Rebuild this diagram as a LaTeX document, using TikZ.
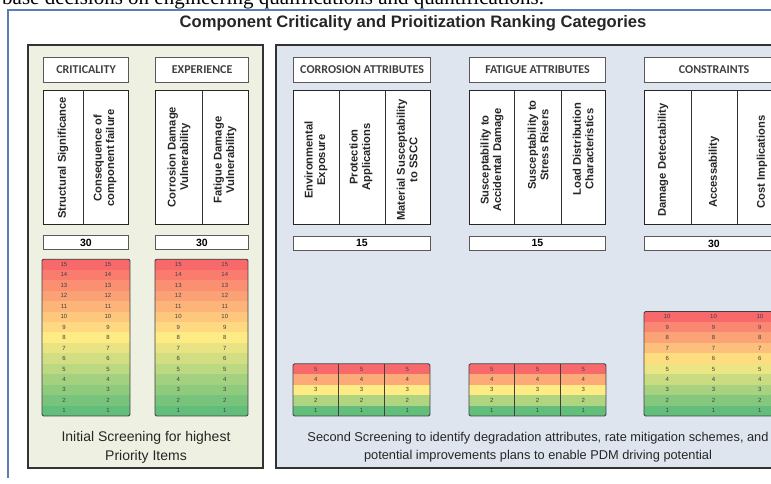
\documentclass[tikz,border=0pt]{standalone}
\usepackage{fontspec}
\setmainfont{Liberation Sans}
\newfontfamily\hdrfont{Carlito}
\newfontfamily\runfont{Liberation Serif}

\definecolor{scalered}{HTML}{F8696B}
\definecolor{scaleyel}{HTML}{FFEB84}
\definecolor{scalegrn}{HTML}{63BE7B}
\definecolor{leftfill}{HTML}{EEF1E1}
\definecolor{rightfill}{HTML}{DEE5EF}
\definecolor{framebl}{HTML}{5A7DB4}

\tikzset{
  panel/.style={draw=black!80, line width=1.6pt},
  hdrbox/.style={draw=black!65, line width=1.2pt, fill=white, anchor=north west,
    inner sep=0pt, font=\hdrfont\bfseries\fontsize{12}{12}\selectfont, text=black!75},
  colbox/.style={draw=black!85, line width=1pt, fill=white},
  collabel/.style={rotate=90, align=center, inner sep=0pt,
    font=\bfseries\fontsize{11.2}{12.5}\selectfont, text=black!85},
  valbox/.style={draw=black!65, line width=0.8pt, fill=white, anchor=north west,
    inner sep=0pt, font=\bfseries\fontsize{10.5}{10}\selectfont},
  scalenum/.style={inner sep=0pt, font=\fontsize{6}{6}\selectfont, text=black!75},
}

% colour-ranked score column: left, right, bottom, rows, columns, dividers (1/0), name
\newcommand{\rankscale}[7]{%
  \pgfmathsetmacro{\rowh}{10.45}%
  \pgfmathsetmacro{\colw}{(#2-#1)/#5}%
  \foreach \r in {1,...,#4}{%
    \pgfmathtruncatemacro{\mixp}{200*(\r-1)/(#4-1)}%
    \ifnum\mixp>100
      \pgfmathtruncatemacro{\mixq}{\mixp-100}%
      \colorlet{rowcol}{scalered!\mixq!scaleyel}%
    \else
      \colorlet{rowcol}{scaleyel!\mixp!scalegrn}%
    \fi
    \fill[rowcol] (#1,{#3-(\r-1)*\rowh}) rectangle (#2,{#3-\r*\rowh});
    \foreach \c in {1,...,#5}
      \node[scalenum] (#7-\r-\c) at ({#1+(\c-0.5)*\colw},{#3-(\r-0.5)*\rowh}) {\r};
  }%
  \ifnum#6=1
    \pgfmathtruncatemacro{\ndiv}{#5-1}%
    \foreach \c in {1,...,\ndiv}
      \draw[black!75, line width=0.6pt] ({#1+\c*\colw},#3) -- ({#1+\c*\colw},{#3-#4*\rowh});
  \fi
  \draw[black!75, line width=0.8pt, rounded corners=1.5pt] (#1,#3) rectangle (#2,{#3-#4*\rowh});
}

\begin{document}
\begin{tikzpicture}[x=1pt,y=-1pt]
  \useasboundingbox (0,0) rectangle (771,484);
  \clip (0,0) rectangle (771,484);
  \fill[white] (0,0) rectangle (771,484);

  % last line of the running text, cut by the top edge
  \node[anchor=base west, inner sep=0pt, font=\runfont\fontsize{21}{21}\selectfont] (runin) at (2,5)
    {base decisions on engineering qualifications and quantifications.};

  % outer frame
  \draw[framebl, line width=1.5pt] (8,478) -- (8,10) -- (800,10);
  \node[font=\bfseries\fontsize{16.6}{16}\selectfont, text=black!85] (title) at (413,23)
    {Component Criticality and Prioitization Ranking Categories};

  % screening panels
  \draw[panel, fill=leftfill] (28,45) rectangle (263,468);
  \draw[panel, fill=rightfill] (276,45) rectangle (800,468);

  % category headers
  \node[hdrbox, minimum width=85pt, minimum height=25pt] (crit) at (43,57) {CRITICALITY};
  \node[hdrbox, minimum width=93pt, minimum height=25pt] (exper) at (155,57) {EXPERIENCE};
  \node[hdrbox, minimum width=137pt, minimum height=25pt] (corr) at (293,57) {CORROSION ATTRIBUTES};
  \node[hdrbox, minimum width=136pt, minimum height=25pt] (fatg) at (469,57) {FATIGUE ATTRIBUTES};
  \node[hdrbox, minimum width=139pt, minimum height=25pt] (cons) at (644,57) {CONSTRAINTS};

  % attribute columns
  \draw[colbox] (43,91) rectangle (128,224);   \draw[black!80] (83,91) -- (83,224);
  \draw[colbox] (155,91) rectangle (248,224);  \draw[black!80] (202,91) -- (202,224);
  \draw[colbox] (293,91) rectangle (430,224);
  \draw[black!80] (339,91) -- (339,224);  \draw[black!80] (385,91) -- (385,224);
  \draw[colbox] (469,91) rectangle (605,224);
  \draw[black!80] (514,91) -- (514,224);  \draw[black!80] (561,91) -- (561,224);
  \draw[colbox] (644,91) rectangle (783,224);
  \draw[black!80] (691,91) -- (691,224);  \draw[black!80] (737,91) -- (737,224);

  \node[collabel] (strsig) at (63,158) {Structural Significance};
  \node[collabel] (consfail) at (105,158) {Consequence of\\component failure};
  \node[collabel] (corvul) at (179,157) {Corrosion Damage\\Vulnerability};
  \node[collabel] (fatvul) at (225,160) {Fatigue Damage\\Vulnerability};
  \node[collabel] (envexp) at (316,160) {Environmental\\Exposure};
  \node[collabel] (protapp) at (361,157) {Protection\\Applications};
  \node[collabel] (matsscc) at (407,160) {Material Susceptability\\to SSCC};
  \node[collabel] (accdmg) at (492,160) {Susceptability to\\Accidental Damage};
  \node[collabel] (stress) at (538,145) {Susceptability to\\Stress Risers};
  \node[collabel] (loaddist) at (583,149) {Load Distribution\\Characteristics};
  \node[collabel] (detect) at (663,160) {Damage Detectability};
  \node[collabel] (access) at (714,172) {Accessability};
  \node[collabel] (costimp) at (762,162) {Cost Implications};

  % category weights
  \node[valbox, minimum width=85pt, minimum height=14pt] (critw) at (43,235) {30};
  \node[valbox, minimum width=93pt, minimum height=14pt] (experw) at (155,235) {30};
  \node[valbox, minimum width=137pt, minimum height=14pt] (corrw) at (293,236) {15};
  \node[valbox, minimum width=136pt, minimum height=14pt] (fatgw) at (469,236) {15};
  \node[valbox, minimum width=139pt, minimum height=14pt] (consw) at (644,236) {30};

  % ranking scales
  \rankscale{42}{130}{416}{15}{2}{0}{critsc}
  \rankscale{155}{248}{416}{15}{2}{0}{expersc}
  \rankscale{293}{430}{416}{5}{3}{1}{corrsc}
  \rankscale{469}{606}{416}{5}{3}{1}{fatgsc}
  \rankscale{644}{783}{416}{10}{3}{0}{conssc}

  % screening notes
  \node[font=\fontsize{14}{19}\selectfont, align=center, text=black!85] (firstnote) at (146,447)
    {Initial Screening for highest\\Priority Items};
  \node[font=\fontsize{12.8}{18}\selectfont, align=center, text=black!85] (secondnote) at (538,447)
    {Second Screening to identify degradation attributes, rate mitigation schemes, and\\potential improvements plans to enable PDM driving potential};
\end{tikzpicture}
\end{document}
